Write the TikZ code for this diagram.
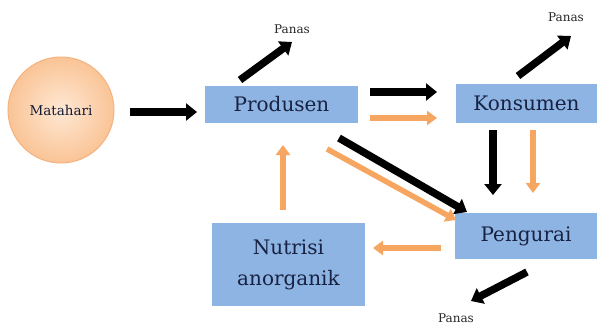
\documentclass[tikz,border=0pt]{standalone}
\usepackage{fontspec}
\setmainfont{DejaVu Serif}
\usetikzlibrary{arrows.meta,shadings}
\definecolor{boxblue}{RGB}{142,180,227}
\definecolor{navy}{RGB}{24,34,66}
\definecolor{orangearr}{RGB}{246,166,96}
\definecolor{sunlight}{RGB}{254,232,212}
\definecolor{sundark}{RGB}{250,196,150}
\definecolor{sunborder}{RGB}{244,178,128}
\tikzset{
  box/.style={fill=boxblue, draw=none, text=navy, font=\fontsize{20}{31}\selectfont, inner sep=0pt, align=center},
  blk/.style={line width=7.5pt, draw=black, -{Triangle[length=11pt,width=17pt]}},
  org/.style={line width=5.5pt, draw=orangearr, -{Triangle[length=10pt,width=14pt]}},
  lbl/.style={font=\fontsize{12}{13}\selectfont, text=black!85, inner sep=0pt}
}
\begin{document}
\begin{tikzpicture}[x=1pt,y=-1pt]
\useasboundingbox (0,0) rectangle (597,329);
% sun
\node[circle, minimum size=106pt, inner sep=0pt, draw=sunborder, line width=1pt,
      inner color=sunlight, outer color=sundark, font=\fontsize{13.5}{15}\selectfont, text=navy!80!black] (sun) at (61,110) {Matahari};
% boxes
\node[box, minimum width=153pt, minimum height=37pt] (prod) at (281.5,104.5) {Produsen};
\node[box, minimum width=141pt, minimum height=39pt] (kons) at (526.5,103.5) {Konsumen};
\node[box, minimum width=142pt, minimum height=46pt] (peng) at (526,236) {Pengurai};
\node[box, minimum width=153pt, minimum height=83pt] (nutr) at (288.5,264.5) {Nutrisi\\anorganik};
% labels
\node[lbl] (p1) at (292,29) {Panas};
\node[lbl] (p2) at (566,17) {Panas};
\node[lbl] (p3) at (456,318) {Panas};
% Matahari -> Produsen
\coordinate (a1s) at (130,112);
\coordinate (a1e) at (197,112);
\draw[blk] (a1s) -- (a1e);
% heat arrows
\coordinate (h1s) at (240,80);
\coordinate (h1e) at (292,42);
\draw[blk] (h1s) -- (h1e);
\coordinate (h2s) at (518,76);
\coordinate (h2e) at (571,36);
\draw[blk] (h2s) -- (h2e);
\coordinate (h3s) at (527,272);
\coordinate (h3e) at (471,301);
\draw[blk] (h3s) -- (h3e);
% Produsen -> Konsumen
\coordinate (pk1s) at (370,92);
\coordinate (pk1e) at (437,92);
\draw[blk] (pk1s) -- (pk1e);
\coordinate (pk2s) at (370,118);
\coordinate (pk2e) at (437,118);
\draw[org] (pk2s) -- (pk2e);
% Konsumen -> Pengurai
\coordinate (kp1s) at (493,130);
\coordinate (kp1e) at (493,195);
\draw[blk] (kp1s) -- (kp1e);
\coordinate (kp2s) at (533,130);
\coordinate (kp2e) at (533,193);
\draw[org] (kp2s) -- (kp2e);
% Produsen -> Pengurai diagonals
\coordinate (d1s) at (339,138);
\coordinate (d1e) at (467,212);
\draw[blk] (d1s) -- (d1e);
\coordinate (d2s) at (327,149);
\coordinate (d2e) at (456,220);
\draw[org] (d2s) -- (d2e);
% Pengurai -> Nutrisi
\coordinate (pn1s) at (441,248);
\coordinate (pn1e) at (373,248);
\draw[org] (pn1s) -- (pn1e);
% Nutrisi -> Produsen
\coordinate (np1s) at (283,210);
\coordinate (np1e) at (283,145);
\draw[org] (np1s) -- (np1e);
\end{tikzpicture}
\end{document}
